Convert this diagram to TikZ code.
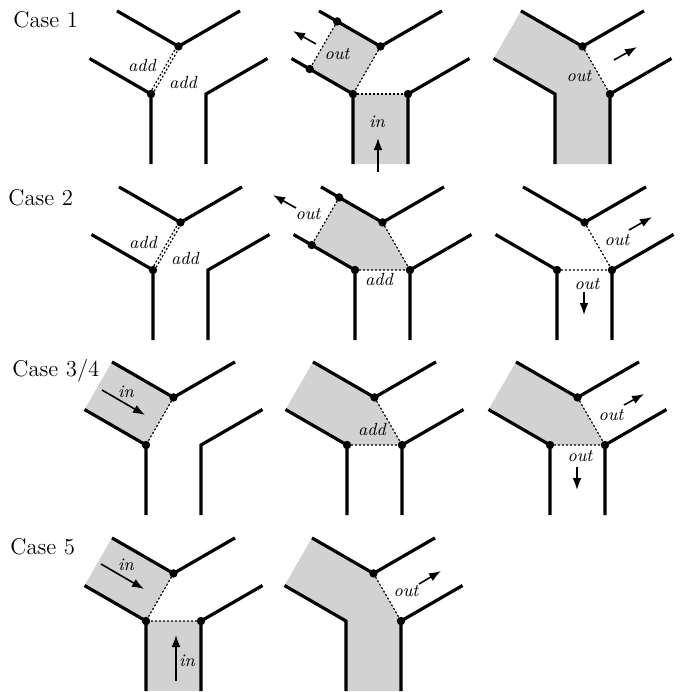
\documentclass[tikz,border=0pt]{standalone}
\usetikzlibrary{arrows.meta,calc}
\newcommand\mkpanel[3]{%
\begin{scope}[shift={(#2,#3)}]
\coordinate (#1L) at (0,0);
\coordinate (#1R) at (55,0);
\coordinate (#1T) at (27.5,-47.6);
\coordinate (#1TL) at (-34,-83.1);
\coordinate (#1TR) at (89,-83.1);
\coordinate (#1LL) at (-61.5,-35.5);
\coordinate (#1LB) at (0,70);
\coordinate (#1RR) at (116.5,-35.5);
\coordinate (#1RB) at (55,70);
\coordinate (#1PT) at (-15.8,-72.6);
\coordinate (#1PL) at (-43.3,-25);
\end{scope}}
\newcommand\walls[1]{%
\draw[wall] (#1TL)--(#1T)--(#1TR);
\draw[wall] (#1LL)--(#1L)--(#1LB);
\draw[wall] (#1RR)--(#1R)--(#1RB);}
\newcommand\dbldot[1]{%
\draw[dotln] ($(#1L)+(1.2,0.7)$) -- ($(#1T)+(1.2,0.7)$);
\draw[dotln] ($(#1L)-(1.2,0.7)$) -- ($(#1T)-(1.2,0.7)$);}
\newcommand\pdot[1]{\fill (#1) circle[radius=2.1pt];}
\begin{document}
\begin{tikzpicture}[x=0.5pt,y=-0.5pt,
  wall/.style={line width=1.6pt},
  dotln/.style={line width=0.6pt,dash pattern=on 1pt off 1pt},
  shade/.style={fill=gray!35},
  arr/.style={line width=0.8pt,-{Latex[length=6pt,width=4.4pt]}},
  lbl/.style={font=\fontsize{8.8}{10}\selectfont\itshape,inner sep=0pt},
  case/.style={font=\fontsize{11.4}{13}\selectfont,inner sep=0pt,anchor=west}]
\useasboundingbox (0,0) rectangle (680,692);
\mkpanel{a}{151}{94}\mkpanel{b}{353}{94}\mkpanel{c}{555}{94}
\mkpanel{d}{153}{270}\mkpanel{e}{355}{270}\mkpanel{f}{557}{270}
\mkpanel{g}{146}{445}\mkpanel{h}{347}{445}\mkpanel{i}{550}{445}
\mkpanel{j}{146}{621}\mkpanel{k}{346}{621}
% shading
\fill[shade] (bPT)--(bT)--(bL)--(bPL)--cycle;
\fill[shade] (bL)--(bR)--(bRB)--(bLB)--cycle;
\fill[shade] (cTL)--(cT)--(cR)--(cRB)--(cLB)--(cL)--(cLL)--cycle;
\fill[shade] (ePT)--(eT)--(eR)--(eL)--(ePL)--cycle;
\fill[shade] (gTL)--(gT)--(gL)--(gLL)--cycle;
\fill[shade] (hTL)--(hT)--(hR)--(hL)--(hLL)--cycle;
\fill[shade] (iTL)--(iT)--(iR)--(iL)--(iLL)--cycle;
\fill[shade] (jTL)--(jT)--(jL)--(jLL)--cycle;
\fill[shade] (jL)--(jR)--(jRB)--(jLB)--cycle;
\fill[shade] (kTL)--(kT)--(kR)--(kRB)--(kLB)--(kL)--(kLL)--cycle;
% walls
\walls{a}\walls{b}\walls{c}\walls{d}\walls{e}\walls{f}
\walls{g}\walls{h}\walls{i}\walls{j}\walls{k}
% dotted lines
\dbldot{a}
\draw[dotln] (bPT)--(bPL); \draw[dotln] (bT)--(bL); \draw[dotln] (bL)--(bR);
\draw[dotln] (cT)--(cR);
\dbldot{d}
\draw[dotln] (ePT)--(ePL); \draw[dotln] (eT)--(eR)--(eL);
\draw[dotln] (fT)--(fR)--(fL);
\draw[dotln] (gT)--(gL);
\draw[dotln] (hT)--(hR)--(hL);
\draw[dotln] (iT)--(iR)--(iL);
\draw[dotln] (jT)--(jL)--(jR);
\draw[dotln] (kT)--(kR);
% dots
\pdot{aT}\pdot{aL}
\pdot{bPT}\pdot{bT}\pdot{bPL}\pdot{bL}\pdot{bR}
\pdot{cT}\pdot{cR}
\pdot{dT}\pdot{dL}
\pdot{ePT}\pdot{eT}\pdot{ePL}\pdot{eL}\pdot{eR}
\pdot{fT}\pdot{fL}\pdot{fR}
\pdot{gT}\pdot{gL}
\pdot{hT}\pdot{hL}\pdot{hR}
\pdot{iT}\pdot{iL}\pdot{iR}
\pdot{jT}\pdot{jL}\pdot{jR}
\pdot{kT}\pdot{kR}
% labels and arrows
\node[case] (c1) at (13,20) {Case 1};
\node[case] (c2) at (8,198) {Case 2};
\node[case] (c3) at (12,371) {Case 3/4};
\node[case] (c5) at (10,547) {Case 5};
\node[lbl] (a1) at (142,65) {add};
\node[lbl] (a2) at (183,82) {add};
\node[lbl] (b1) at (337,54) {out};
\draw[arr] (316,44)--(293,31);
\node[lbl] (b2) at (377,122) {in};
\draw[arr] (378,172)--(378,138);
\node[lbl] (c1l) at (579,76) {out};
\draw[arr] (614,60)--(637,47);
\node[lbl] (d1) at (143,242) {add};
\node[lbl] (d2) at (185,258) {add};
\node[lbl] (e1) at (308,214) {out};
\draw[arr] (296,208)--(273,195);
\node[lbl] (e2) at (379,279) {add};
\node[lbl] (f1) at (617,240) {out};
\draw[arr] (629,230)--(652,217);
\node[lbl] (f2) at (587,284) {out};
\draw[arr] (584,292)--(584,315);
\node[lbl] (g1) at (126,392) {in};
\draw[arr] (102,390)--(145,415);
\node[lbl] (h1) at (372,429) {add};
\node[lbl] (i1) at (611,415) {out};
\draw[arr] (624,405)--(644,394);
\node[lbl] (i2) at (580,456) {out};
\draw[arr] (577,467)--(577,490);
\node[lbl] (j1) at (126,565) {in};
\draw[arr] (101,564)--(144,589);
\node[lbl] (j2) at (187,661) {in};
\draw[arr] (176,681)--(176,635);
\node[lbl] (k1) at (406,591) {out};
\draw[arr] (419,584)--(441,571);
\end{tikzpicture}
\end{document}
